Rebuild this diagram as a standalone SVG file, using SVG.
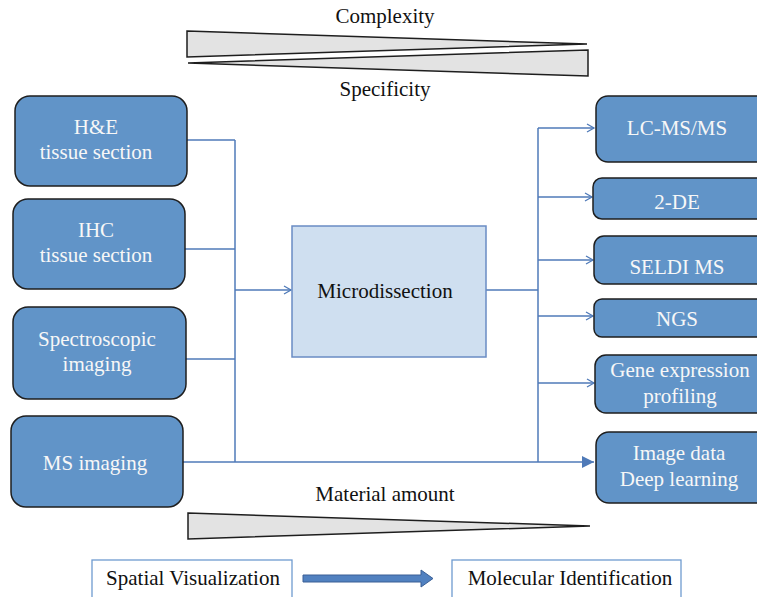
<svg xmlns="http://www.w3.org/2000/svg" width="757" height="597" viewBox="0 0 757 597">
<defs>
<style>
.node{fill:#6194c8;stroke:#1e1e1e;stroke-width:1.5}
.nt{font-family:"Liberation Serif",serif;font-size:21px;fill:#f7f7f7;text-anchor:middle}
.bt{font-family:"Liberation Serif",serif;font-size:21px;fill:#111;text-anchor:middle}
.wedge{fill:#e3e3e3;stroke:#1e1e1e;stroke-width:1.5;stroke-linejoin:miter}
.conn{fill:none;stroke:#4f7ab8;stroke-width:1.5}
.lab{fill:#fff;stroke:#6f9bd0;stroke-width:1.3}
</style>
<marker id="open" markerWidth="10" markerHeight="10" refX="8" refY="5" orient="auto" markerUnits="userSpaceOnUse">
<path d="M1,1 L8,5 L1,9" fill="none" stroke="#4f7ab8" stroke-width="1.3"/>
</marker>
<marker id="solid" markerWidth="14" markerHeight="14" refX="12" refY="7" orient="auto" markerUnits="userSpaceOnUse">
<path d="M0,1 L12,7 L0,13 Z" fill="#4f7ab8"/>
</marker>
</defs>
<rect width="757" height="597" fill="#fff"/>

<g id="wedges">
<text class="bt" x="385" y="23">Complexity</text>
<polygon class="wedge" points="187,31 587,44 187,57"/>
<polygon class="wedge" points="188,63 588,50 588,76"/>
<text class="bt" x="385" y="96">Specificity</text>
<text class="bt" x="385" y="501">Material amount</text>
<polygon class="wedge" points="188,513 590,526 188,539"/>
</g>

<g id="connectors">
<path class="conn" d="M187,140 H235"/>
<path class="conn" d="M185,249 H235"/>
<path class="conn" d="M186,359 H235"/>
<path class="conn" d="M235,140 V462"/>
<path class="conn" d="M235,290 H291" marker-end="url(#open)"/>
<path class="conn" d="M183,462 H594" marker-end="url(#solid)"/>
<path class="conn" d="M486,290 H538"/>
<path class="conn" d="M538,128 V462"/>
<path class="conn" d="M538,128 H594" marker-end="url(#open)"/>
<path class="conn" d="M538,197 H592" marker-end="url(#open)"/>
<path class="conn" d="M538,260 H593" marker-end="url(#open)"/>
<path class="conn" d="M538,316 H593" marker-end="url(#open)"/>
<path class="conn" d="M538,383 H594" marker-end="url(#open)"/>
</g>

<g id="he">
<rect class="node" x="15" y="96" width="172" height="90" rx="15"/>
<text class="nt" x="96" y="134">H&amp;E</text>
<text class="nt" x="96" y="159">tissue section</text>
</g>
<g id="ihc">
<rect class="node" x="13" y="199" width="172" height="90" rx="15"/>
<text class="nt" x="96" y="237">IHC</text>
<text class="nt" x="96" y="262">tissue section</text>
</g>
<g id="spectro">
<rect class="node" x="13" y="307" width="173" height="92" rx="15"/>
<text class="nt" x="97" y="346">Spectroscopic</text>
<text class="nt" x="97" y="371">imaging</text>
</g>
<g id="msimaging">
<rect class="node" x="11" y="416" width="172" height="91" rx="15"/>
<text class="nt" x="95" y="470">MS imaging</text>
</g>

<g id="microdissection">
<rect x="292" y="226" width="194" height="131" fill="#cfdff0" stroke="#6a8cc4" stroke-width="1.5"/>
<text class="bt" x="385" y="298">Microdissection</text>
</g>

<g id="lcms">
<rect class="node" x="596" y="96" width="180" height="66" rx="12"/>
<text class="nt" x="677" y="135">LC-MS/MS</text>
</g>
<g id="twode">
<rect class="node" x="593" y="178" width="183" height="41" rx="9"/>
<text class="nt" x="677" y="209">2-DE</text>
</g>
<g id="seldi">
<rect class="node" x="594" y="236" width="182" height="48" rx="10"/>
<text class="nt" x="677" y="274">SELDI MS</text>
</g>
<g id="ngs">
<rect class="node" x="594" y="299" width="182" height="38" rx="8"/>
<text class="nt" x="677" y="326">NGS</text>
</g>
<g id="gene">
<rect class="node" x="595" y="355" width="181" height="58" rx="11"/>
<text class="nt" x="680" y="377">Gene expression</text>
<text class="nt" x="680" y="403">profiling</text>
</g>
<g id="imagedata">
<rect class="node" x="596" y="432" width="180" height="71" rx="13"/>
<text class="nt" x="679" y="460">Image data</text>
<text class="nt" x="679" y="486">Deep learning</text>
</g>

<g id="spatial">
<rect class="lab" x="92" y="560" width="200" height="45"/>
<text class="bt" x="193" y="585">Spatial Visualization</text>
</g>
<g id="flow-arrow">
<path d="M303,575 H421 V570 L433,578.5 L421,587 V582 H303 Z" fill="#5181c0" stroke="#3a5f95" stroke-width="1"/>
</g>
<g id="molecular">
<rect class="lab" x="452" y="560" width="229" height="45"/>
<text class="bt" x="570" y="585">Molecular Identification</text>
</g>
</svg>
